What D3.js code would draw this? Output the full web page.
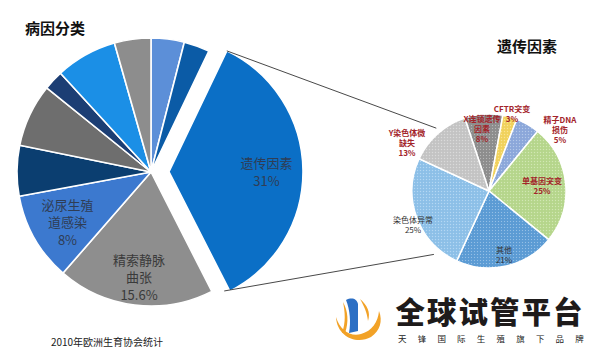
<!DOCTYPE html>
<html><head><meta charset="utf-8">
<script src="https://cdn.jsdelivr.net/npm/d3@7/dist/d3.min.js"></script>
<style>
html,body{margin:0;padding:0;background:#fff;}
svg{display:block;font-family:"Noto Sans CJK SC","Noto Sans",sans-serif;}
</style></head><body>
<svg id="chart" width="600" height="355"></svg>
<script>
// ---- Data: main pie (病因分类), clockwise from 12 o'clock ----
const bigCategories = ["其他1","其他2","遗传因素","精索静脉曲张","泌尿生殖道感染","其他3","其他4","其他5","其他6","其他7"];
const bigValues = [4.0, 3.1, 35.4, 18.9, 10.7, 6.1, 7.6, 2.4, 7.4, 4.4];
const bigColors = ["#5c8fd8","#0b5ba6","#0b6fc6","#8e8e8e","#3c79cf","#0b3e70","#6e6e6e","#1c3e74","#1b8fe6","#8d8d8d"];
const bigLabels = [[],[],["遗传因素","31%"],["精索静脉","曲张","15.6%"],["泌尿生殖","道感染","8%"],[],[],[],[],[]];
const explodedIndex = 2;

// ---- Data: secondary pie (遗传因素) ----
const smallCategories = ["X连锁遗传因素","CFTR突变","精子DNA损伤","单基因突变","其他","染色体异常","Y染色体微缺失"];
const smallValues = [8, 3, 5, 25, 21, 25, 13];
const smallColors = ["#8f8f8f","#f3d45f","#8eaadc","#b8d88e","#5d9dd6","#8fc2ea","#c6c6c6"];
const smallLabels = [["X连锁遗传","因素","8%"],["CFTR突变","3%"],["精子DNA","损伤","5%"],["单基因突变","25%"],["其他","21%"],["染色体异常","25%"],["Y染色体微","缺失","13%"]];
const smallLabelColors = ["#a3242a","#a3242a","#a3242a","#a3242a","#333333","#333333","#a3242a"];

const svg = d3.select("#chart");
const deg = Math.PI/180;

// pattern for textured small pie
const defs = svg.append("defs");
smallColors.forEach((c,i)=>{
  const p = defs.append("pattern").attr("id","tex"+i).attr("width",3).attr("height",3).attr("patternUnits","userSpaceOnUse");
  p.append("rect").attr("width",3).attr("height",3).attr("fill",c);
  p.append("rect").attr("x",0).attr("y",0).attr("width",1).attr("height",1).attr("fill","#ffffff").attr("opacity",0.35);
  p.append("rect").attr("x",1.5).attr("y",1.5).attr("width",1).attr("height",1).attr("fill","#000").attr("opacity",0.06);
});

// ---- Main pie ----
const bigCx = 151, bigCy = 172, bigR = 134, explode = 18;
const bigPie = d3.pie().sort(null).value(d=>d).startAngle(0).endAngle(2*Math.PI);
const bigArcs = bigPie(bigValues);
const bigArc = d3.arc().innerRadius(0).outerRadius(bigR);
const gBig = svg.append("g").attr("transform",`translate(${bigCx},${bigCy})`);
function offsetOf(d,i){
  if(i!==explodedIndex) return [0,0];
  const m=(d.startAngle+d.endAngle)/2;
  return [Math.sin(m)*explode, -Math.cos(m)*explode];
}
gBig.selectAll("path").data(bigArcs).join("path")
  .attr("transform",(d,i)=>{const o=offsetOf(d,i);return `translate(${o[0]},${o[1]})`;})
  .attr("d",bigArc).attr("fill",(d,i)=>bigColors[i])
  .attr("stroke","#fff").attr("stroke-width",1.6).attr("stroke-linejoin","round");

// label block centres relative to pie centre
const bigLabelAt = {2:[115.5,0], 3:[-12,105], 4:[-83.5,50]};
bigArcs.forEach((d,i)=>{
  const lines = bigLabels[i]; if(!lines.length) return;
  const [x,y] = bigLabelAt[i];
  const lh = 17.5;
  const t = gBig.append("text").attr("text-anchor","middle").attr("font-size",13)
    .attr("fill", i===3 ? "#3a3a3a" : "#2f3d55");
  lines.forEach((s,k)=>{
    t.append("tspan").attr("x",x).attr("y",y+(k-(lines.length-1)/2)*lh+5).text(s);
  });
});

// ---- Small pie ----
const smCx = 489, smCy = 191, smR = 77;
const smallPie = d3.pie().sort(null).value(d=>d).startAngle(-18.4*deg).endAngle(-18.4*deg+2*Math.PI);
const smallArcs = smallPie(smallValues);
const smallArc = d3.arc().innerRadius(0).outerRadius(smR);
const gSm = svg.append("g").attr("transform",`translate(${smCx},${smCy})`);
gSm.selectAll("path").data(smallArcs).join("path")
  .attr("d",smallArc).attr("fill",(d,i)=>`url(#tex${i})`)
  .attr("stroke","#fff").attr("stroke-width",1.5);

const smallLabelAt = [[-7,-62],[23,-77],[71,-61],[53,-5],[15,64],[-76,34],[-82,-48]];
smallArcs.forEach((d,i)=>{
  const [x,y] = smallLabelAt[i];
  const lines = smallLabels[i];
  const lh = 9.8;
  const t = gSm.append("text").attr("text-anchor","middle").attr("font-size",8)
    .attr("font-weight", i===4||i===5 ? 400 : 700).attr("fill",smallLabelColors[i]);
  lines.forEach((s,k)=>{
    t.append("tspan").attr("x",x).attr("y",y+(k-(lines.length-1)/2)*lh+3).text(s);
  });
});

// ---- connector lines from exploded slice to small pie ----
(function(){
  const d = bigArcs[explodedIndex]; const o = offsetOf(d,explodedIndex);
  const p1 = [bigCx+o[0]+Math.sin(d.startAngle)*bigR, bigCy+o[1]-Math.cos(d.startAngle)*bigR];
  const p2 = [bigCx+o[0]+Math.sin(d.endAngle)*bigR*0.99, bigCy+o[1]-Math.cos(d.endAngle)*bigR*0.99];
  const q1 = [smCx+Math.sin(-40*deg)*(smR+5), smCy-Math.cos(-40*deg)*(smR+5)];
  const q2 = [smCx+Math.sin(221*deg)*(smR+7), smCy-Math.cos(221*deg)*(smR+7)];
  svg.append("line").attr("x1",p1[0]).attr("y1",p1[1]).attr("x2",q1[0]).attr("y2",q1[1]).attr("stroke","#333").attr("stroke-width",0.9);
  svg.append("line").attr("x1",p2[0]-5).attr("y1",p2[1]+1).attr("x2",q2[0]).attr("y2",q2[1]).attr("stroke","#333").attr("stroke-width",0.9);
})();

// ---- titles ----
svg.append("text").attr("x",25).attr("y",34).attr("font-size",15).attr("font-weight",700).attr("fill","#111").text("病因分类");
svg.append("text").attr("x",527).attr("y",52).attr("text-anchor","middle").attr("font-size",15).attr("font-weight",700).attr("fill","#111").text("遗传因素");
svg.append("text").attr("x",107).attr("y",346).attr("text-anchor","middle").attr("font-size",10).attr("fill","#222").text("2010年欧洲生育协会统计");

// ---- logo ----
const logo = svg.append("g");
logo.append("path").attr("d","M336,317 C337,337 357,345 371,337 C380,331 383,321 379,311 C378,322 372,331 361,334 C350,337 340,330 336,317 Z").attr("fill","#f2a227");
logo.append("path").attr("d","M346,300 C352,297 357,299 358,304 L358,331 L349,333 C351,322 350,310 346,300 Z").attr("fill","#2c6fc4");
logo.append("path").attr("d","M343,302 C348,311 349,322 345,333 L342,333 C346,322 345,312 343,302 Z").attr("fill","#f2a227");
logo.append("path").attr("d","M360,299 C367,305 371,312 368,321 C367,312 364,306 360,299 Z").attr("fill","#f2a227");
logo.append("text").attr("x",490).attr("y",323).attr("text-anchor","middle").attr("font-size",29.5).attr("font-weight",900)
  .attr("fill","#1e1b1b").attr("letter-spacing",2).text("全球试管平台");
logo.append("text").attr("x",398).attr("y",342).attr("font-size",8.5).attr("fill","#222").attr("letter-spacing",11.2).text("天锋国际生殖旗下品牌");
</script>
</body></html>
